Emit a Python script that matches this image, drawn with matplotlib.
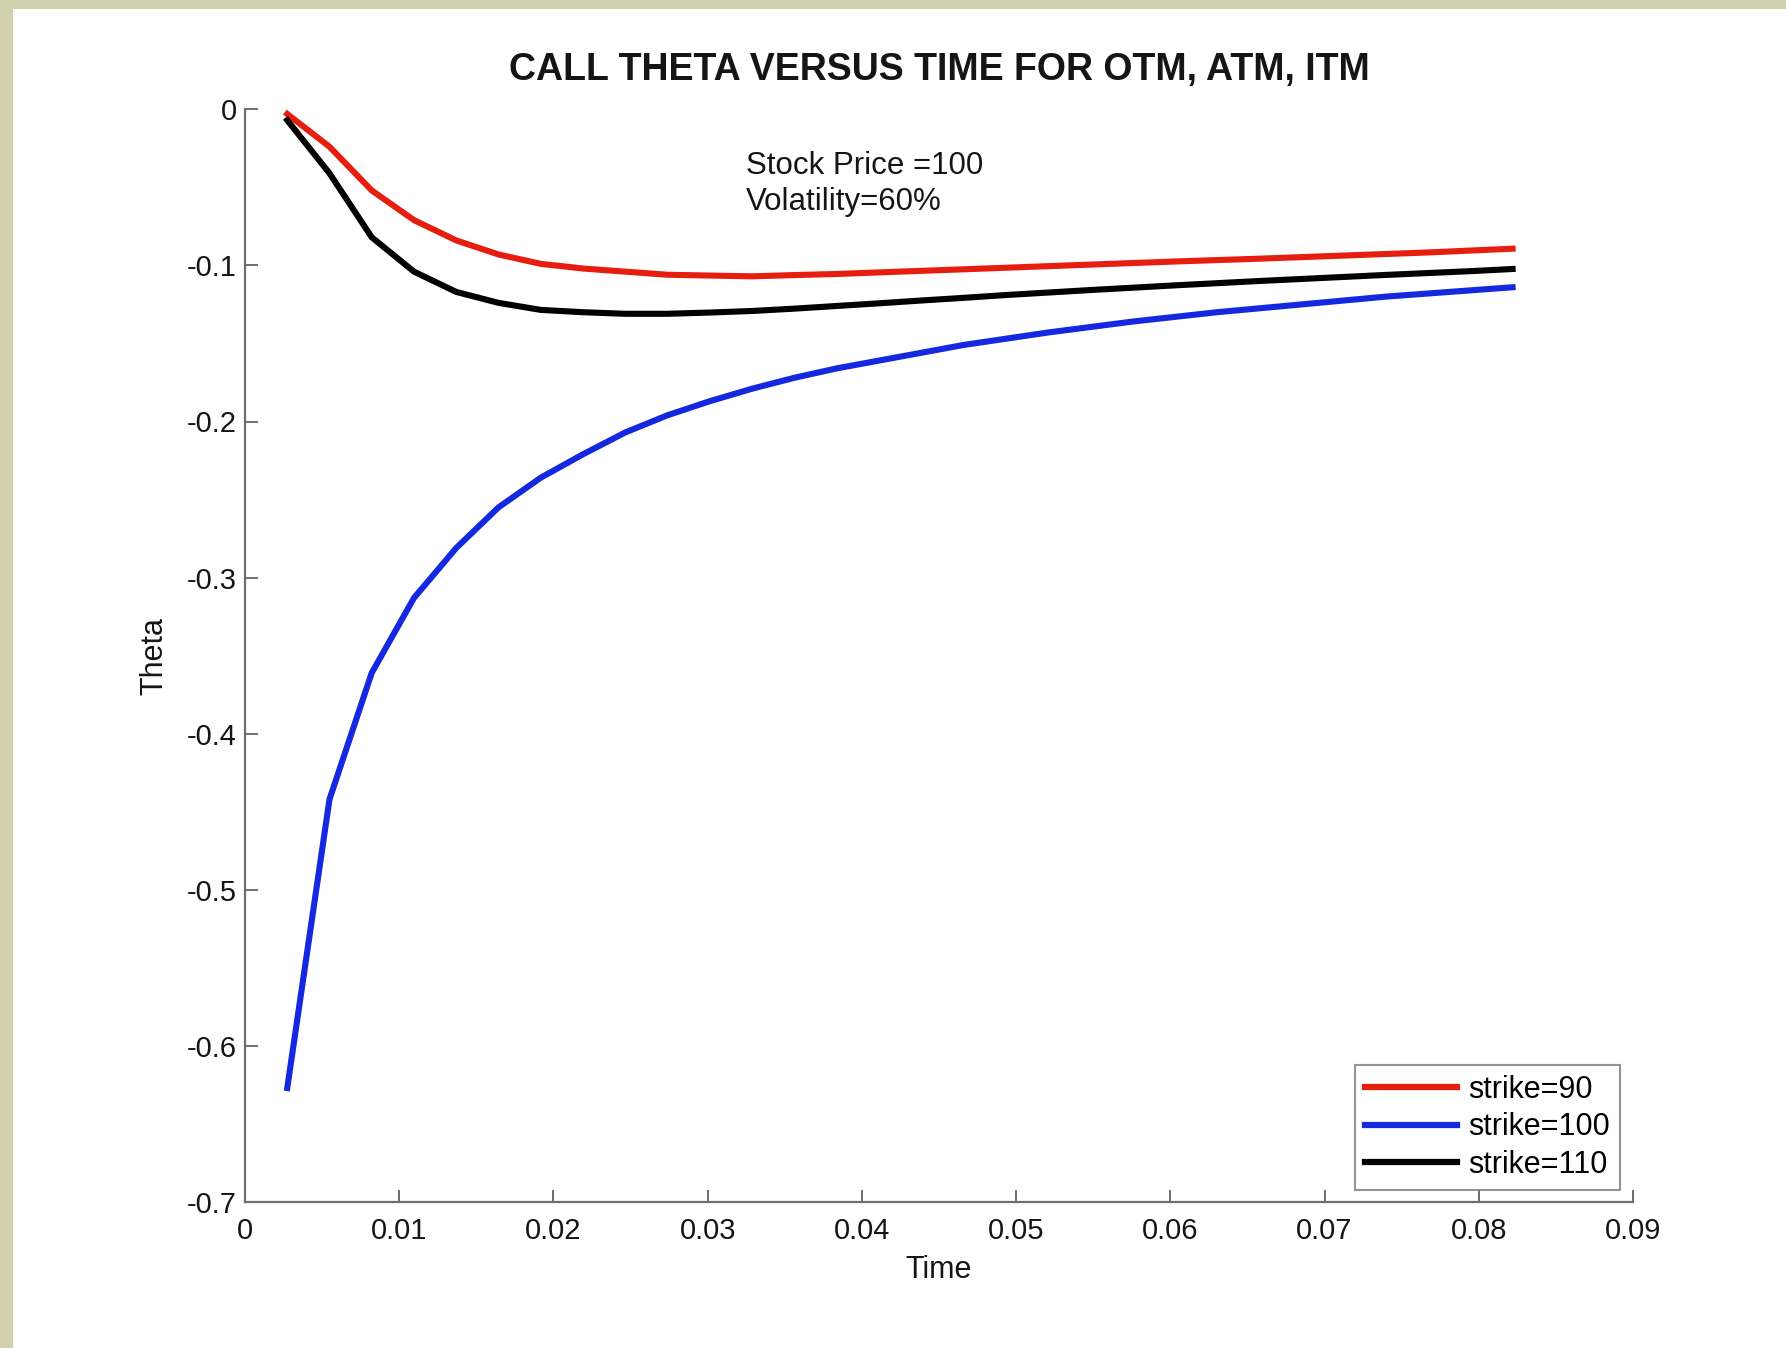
import numpy as np
import matplotlib
matplotlib.use("Agg")
import matplotlib.pyplot as plt
from matplotlib.patches import Rectangle

# ---- data ----
days = list(range(1, 31))
time = [d / 365 for d in days]

theta_k90 = [-0.003, -0.024, -0.052, -0.071, -0.084, -0.093, -0.099, -0.102, -0.104, -0.106,
             -0.1065, -0.107, -0.1062, -0.1055, -0.1045, -0.1035, -0.1025, -0.1015, -0.1005, -0.0995,
             -0.0985, -0.0975, -0.0966, -0.0957, -0.0947, -0.0937, -0.0927, -0.0917, -0.0905, -0.0893]
theta_k100 = [-0.627, -0.442, -0.361, -0.313, -0.281, -0.255, -0.236, -0.221, -0.207, -0.196,
              -0.187, -0.179, -0.172, -0.166, -0.161, -0.156, -0.151, -0.147, -0.143, -0.1395,
              -0.136, -0.133, -0.130, -0.1275, -0.125, -0.1225, -0.120, -0.118, -0.116, -0.114]
theta_k110 = [-0.007, -0.041, -0.082, -0.104, -0.117, -0.124, -0.1285, -0.130, -0.131, -0.131,
              -0.1302, -0.1292, -0.1277, -0.1260, -0.1243, -0.1225, -0.1208, -0.1190, -0.1174, -0.1158,
              -0.1143, -0.1128, -0.1114, -0.1100, -0.1087, -0.1074, -0.1061, -0.1049, -0.1037, -0.1023]

series_labels = ["strike=90", "strike=100", "strike=110"]
series_colors = ["#e61e10", "#1428e0", "#000000"]

xticks = [0, 0.01, 0.02, 0.03, 0.04, 0.05, 0.06, 0.07, 0.08, 0.09]
xticklabels = ["0", "0.01", "0.02", "0.03", "0.04", "0.05", "0.06", "0.07", "0.08", "0.09"]
yticks = [0, -0.1, -0.2, -0.3, -0.4, -0.5, -0.6, -0.7]
yticklabels = ["0", "-0.1", "-0.2", "-0.3", "-0.4", "-0.5", "-0.6", "-0.7"]

title = "CALL THETA VERSUS TIME FOR OTM, ATM, ITM"
note_lines = ["Stock Price =100", "Volatility=60%"]

# ---- figure ----
plt.rcParams['font.family'] = ['Liberation Sans', 'DejaVu Sans']
W, H = 1786, 1348
fig = plt.figure(figsize=(W / 100, H / 100), dpi=100)
fig.patch.set_facecolor("white")

# beige frame on the top and left
beige = "#d3d0b0"
fig.add_artist(Rectangle((0, 1 - 9 / H), 1, 9 / H, transform=fig.transFigure,
                         facecolor=beige, edgecolor="none", zorder=0))
fig.add_artist(Rectangle((0, 0), 13 / W, 1, transform=fig.transFigure,
                         facecolor=beige, edgecolor="none", zorder=0))

ax = fig.add_axes([245 / W, 1 - 1202 / H, (1633 - 245) / W, (1202 - 109.3) / H])

for y, lab, col in zip([theta_k90, theta_k100, theta_k110], series_labels, series_colors):
    ax.plot(time, y, color=col, lw=4.4, label=lab, solid_joinstyle="round")

ax.set_xlim(0, 0.09)
ax.set_ylim(-0.7, 0)
ax.set_xticks(xticks)
ax.set_xticklabels(xticklabels)
ax.set_yticks(yticks)
ax.set_yticklabels(yticklabels)

txt = "#151515"
spine_col = "#6e6e6e"
for s in ["top", "right"]:
    ax.spines[s].set_visible(False)
for s in ["left", "bottom"]:
    ax.spines[s].set_color(spine_col)
    ax.spines[s].set_linewidth(1.6)
ax.tick_params(axis="both", direction="in", length=9, width=1.4, color=spine_col,
               labelsize=21, labelcolor=txt)
ax.tick_params(axis="x", pad=11)
ax.tick_params(axis="y", pad=6)

# notes
ax.text(0.0325, -0.0362, note_lines[0], fontsize=22.5, va="center", ha="left", color=txt)
ax.text(0.0325, -0.0595, note_lines[1], fontsize=22.5, va="center", ha="left", color=txt)

fig.text(939 / W, 1 - 70 / H, title, fontsize=27, fontweight="bold", ha="center", va="center",
         color=txt)
fig.text(939 / W, 1 - 1270 / H, "Time", fontsize=22, ha="center", va="center", color=txt)
fig.text(154 / W, 1 - 656 / H, "Theta", fontsize=22, ha="center", va="center", rotation=90,
         color=txt)

leg = ax.legend(loc="lower right", bbox_to_anchor=(1620 / W, 1 - 1190 / H),
                bbox_transform=fig.transFigure, borderaxespad=0, fontsize=22,
                handlelength=3.0, handletextpad=0.37, labelspacing=0.25,
                borderpad=0.33, fancybox=False, frameon=True)
leg.get_frame().set_edgecolor("#7a7a7a")
leg.get_frame().set_linewidth(1.5)
for line in leg.get_lines():
    line.set_linewidth(4.5)

fig.savefig("out.png", dpi=100, facecolor="white")
